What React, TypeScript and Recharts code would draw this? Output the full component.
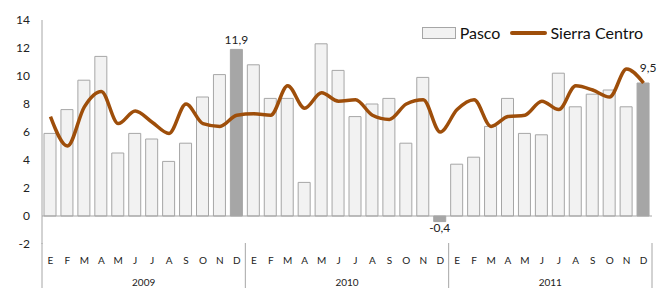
import { ComposedChart, Bar, Line, XAxis, YAxis, ReferenceLine, Cell, LabelList } from 'recharts'

const months = ['E', 'F', 'M', 'A', 'M', 'J', 'J', 'A', 'S', 'O', 'N', 'D']
const years = ['2009', '2010', '2011']

// Pasco, variación % mensual
const pasco = [
  5.9, 7.6, 9.7, 11.4, 4.5, 5.9, 5.5, 3.9, 5.2, 8.5, 10.1, 11.9,
  10.8, 8.4, 8.4, 2.4, 12.3, 10.4, 7.1, 8.0, 8.4, 5.2, 9.9, -0.4,
  3.7, 4.2, 6.4, 8.4, 5.9, 5.8, 10.2, 7.8, 8.7, 9.0, 7.8, 9.5,
]

const sierraCentro = [
  7.1, 5.0, 7.8, 8.9, 6.6, 7.5, 6.7, 5.9, 8.0, 6.6, 6.4, 7.2,
  7.3, 7.2, 9.3, 7.7, 8.8, 8.2, 8.3, 7.2, 6.9, 8.0, 8.3, 6.0,
  7.6, 8.3, 6.4, 7.1, 7.2, 8.2, 7.6, 9.3, 9.0, 8.5, 10.5, 9.5,
]

const yTicks = [-2, 0, 2, 4, 6, 8, 10, 12, 14]

const W = 657
const H = 288
const LEFT = 42
const RIGHT = 5
const BAND = (W - LEFT - RIGHT) / (months.length * years.length)

const FONT = 'Lato, "Open Sans", sans-serif'
const LINE_COLOR = '#9E4E0A'

const data = years.flatMap((y, yi) =>
  months.map((m, mi) => {
    const i = yi * 12 + mi
    return { key: `${y}-${mi}`, month: m, year: y, pasco: pasco[i], sierra: sierraCentro[i] }
  })
)

const fmt = (v: number) => v.toFixed(1).replace('.', ',')

function MonthTick(props: any) {
  const { x, y, payload } = props
  const idx = payload.index as number
  const d = data[idx]
  return (
    <g>
      <text x={x} y={y + 20} textAnchor="middle" fontSize={10} fill="#222" fontFamily={FONT}>
        {d.month}
      </text>
      {idx % 12 === 0 && (
        <line x1={x - BAND / 2} x2={x - BAND / 2} y1={y - 1} y2={y + 44} stroke="#a6a6a6" />
      )}
      {idx === data.length - 1 && (
        <line x1={x + BAND / 2} x2={x + BAND / 2} y1={y - 1} y2={y + 44} stroke="#a6a6a6" />
      )}
      {idx % 12 === 5 && (
        <text x={x + BAND / 2} y={y + 42} textAnchor="middle" fontSize={10} fill="#222" fontFamily={FONT}>
          {d.year}
        </text>
      )}
    </g>
  )
}

function DecLabel(props: any) {
  const { x, y, width, height, value, index } = props
  if (index % 12 !== 11) return null
  const cx = x + width / 2
  if (value < 0) {
    return (
      <text x={cx} y={y + height + 16} textAnchor="middle" fontSize={12} fill="#222" fontFamily={FONT}>
        {fmt(value)}
      </text>
    )
  }
  const last = index === data.length - 1
  return (
    <text
      x={cx + (last ? 5 : 0)}
      y={y - (last ? 11 : 5)}
      textAnchor="middle"
      fontSize={12}
      fill="#222"
      fontFamily={FONT}
    >
      {fmt(value)}
    </text>
  )
}

export default function App() {
  return (
    <div style={{ position: 'absolute', left: 0, top: 0, width: W, height: H, background: '#fff', fontFamily: FONT }}>
      <ComposedChart width={W} height={H} data={data} margin={{ top: 20, right: RIGHT, left: 0, bottom: 0 }}>
        <XAxis
          dataKey="key"
          interval={0}
          axisLine={false}
          tickLine={false}
          tickSize={0}
          tickMargin={0}
          height={44}
          tick={<MonthTick />}
        />
        <YAxis
          domain={[-2, 14]}
          ticks={yTicks}
          width={LEFT}
          axisLine={{ stroke: '#a6a6a6' }}
          tickLine={false}
          tickSize={0}
          tickMargin={12}
          tick={{ fontSize: 12, fill: '#222', fontFamily: FONT }}
        />
        <ReferenceLine y={0} stroke="#a6a6a6" />
        <Bar dataKey="pasco" name="Pasco" barSize={12} fill="#f2f2f2" stroke="#a6a6a6" strokeWidth={1} isAnimationActive={false}>
          {data.map((d, i) => (
            <Cell key={d.key} fill={i % 12 === 11 ? '#a6a6a6' : '#f2f2f2'} stroke="#a6a6a6" />
          ))}
          <LabelList dataKey="pasco" content={<DecLabel />} />
        </Bar>
        <Line
          type="monotone"
          dataKey="sierra"
          name="Sierra Centro"
          stroke={LINE_COLOR}
          strokeWidth={3.5}
          dot={false}
          isAnimationActive={false}
        />
      </ComposedChart>

      {/* leyenda */}
      <div style={{ position: 'absolute', top: 23, right: 14, display: 'flex', alignItems: 'center', fontSize: 16, color: '#111', lineHeight: '20px' }}>
        <span style={{ display: 'inline-block', width: 32, height: 10, background: '#f2f2f2', border: '1px solid #a6a6a6', marginRight: 4 }} />
        <span>Pasco</span>
        <span style={{ display: 'inline-block', width: 37, height: 3.5, background: LINE_COLOR, marginLeft: 10, marginRight: 3, borderRadius: 2 }} />
        <span>Sierra Centro</span>
      </div>
    </div>
  )
}
